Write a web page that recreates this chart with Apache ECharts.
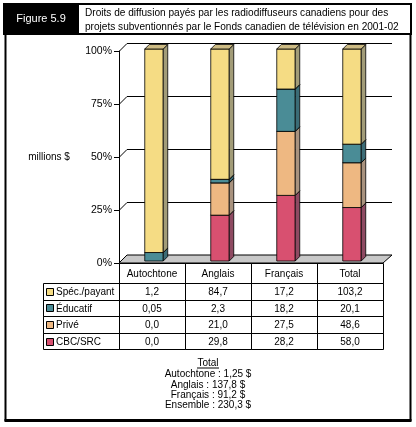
<!DOCTYPE html>
<html>
<head>
<meta charset="utf-8">
<script src="https://cdn.jsdelivr.net/npm/echarts@6/dist/echarts.min.js"></script>
<style>
html,body{margin:0;padding:0;background:#fff;}
#chart{width:416px;height:427px;}
</style>
</head>
<body>
<div id="chart"></div>
<script>
// ---- data ----
const categories = ['Autochtone', 'Anglais', 'Français', 'Total'];
const specPayant = [1.2, 84.7, 17.2, 103.2];
const educatif = [0.05, 2.3, 18.2, 20.1];
const prive = [0.0, 21.0, 27.5, 48.6];
const cbcSrc = [0.0, 29.8, 28.2, 58.0];
const seriesNames = ['Spéc./payant', 'Éducatif', 'Privé', 'CBC/SRC'];
const yTicks = [0, 25, 50, 75, 100];
const yTickLabels = ['0%', '25%', '50%', '75%', '100%'];
const figureLabel = 'Figure 5.9';
const titleLines = ['Droits de diffusion payés par les radiodiffuseurs canadiens pour des',
                    'projets subventionnés par le Fonds canadien de télévision en 2001-02'];
const yName = 'millions $';
const totalTitle = 'Total';
const totalLines = ['Autochtone : 1,25 $', 'Anglais : 137,8 $', 'Français : 91,2 $', 'Ensemble : 230,3 $'];

// ---- styles ----
const FONT = '"Liberation Sans", Arial, sans-serif';
const colors = {
  'Spéc./payant': {front: '#F5DC84', side: '#A29C78', top: '#CDBB84'},
  'Éducatif': {front: '#4A8C96', side: '#3B6C76', top: '#3F7A84'},
  'Privé': {front: '#EEB882', side: '#A8927E', top: '#C9A07A'},
  'CBC/SRC': {front: '#D85070', side: '#8E4A62', top: '#B04862'}
};
const L = {gridL: 119, gridR: 383, gridT: 51, gridB: 263, depth: 8, barOff: 2, barD: 4.5, barFrac: 0.28,
  tableL: 43, headH: 20, rowH: 16.6};
const TF = '10px ' + FONT;

const valueArrays = {'Spéc./payant': specPayant, 'Éducatif': educatif, 'Privé': prive, 'CBC/SRC': cbcSrc};
const stackOrder = ['CBC/SRC', 'Privé', 'Éducatif', 'Spéc./payant'];
const totals = categories.map((c, i) => stackOrder.reduce((s, n) => s + valueArrays[n][i], 0));

const stackData = {};
const cum = categories.map(() => 0);
stackOrder.forEach(n => {
  stackData[n] = categories.map((c, i) => {
    const p = valueArrays[n][i] / totals[i] * 100;
    const lo = cum[i];
    cum[i] += p;
    return [i, lo, cum[i]];
  });
});

function fmt(v) {
  return (v > 0 && v < 0.1 ? v.toFixed(2) : v.toFixed(1)).replace('.', ',');
}

function barRender(name) {
  return function (params, api) {
    const cat = api.value(0), lo = api.value(1), hi = api.value(2);
    if (hi - lo <= 0.0001) return;
    const pLo = api.coord([cat, lo]);
    const pHi = api.coord([cat, hi]);
    const band = api.size([1, 0])[0];
    const w = band * L.barFrac;
    const D = L.barD, o = L.barOff;
    const x0 = pLo[0] - w / 2 + o, x1 = x0 + w;
    const yb = pLo[1] - o, yt = pHi[1] - o;
    const c = colors[name];
    const st = {stroke: '#000', lineWidth: 0.8};
    return {
      type: 'group',
      children: [
        {type: 'rect', shape: {x: x0, y: yt, width: w, height: yb - yt}, style: Object.assign({fill: c.front}, st)},
        {type: 'polygon', shape: {points: [[x1, yt], [x1 + D, yt - D], [x1 + D, yb - D], [x1, yb]]}, style: Object.assign({fill: c.side}, st)},
        {type: 'polygon', shape: {points: [[x0, yt], [x1, yt], [x1 + D, yt - D], [x0 + D, yt - D]]}, style: Object.assign({fill: c.top}, st)}
      ]
    };
  };
}

function decorRender(params, api) {
  const cs = params.coordSys;
  const left = cs.x, right = cs.x + cs.width;
  const d = L.depth;
  const children = [];
  const y0 = api.coord([0, 0])[1];
  children.push({type: 'polygon', shape: {points: [[left, y0], [right, y0], [right + d + 1, y0 - d], [left + d, y0 - d]]},
    style: {fill: '#C8C8C8', stroke: '#000', lineWidth: 1}});
  yTicks.forEach(t => {
    if (t === 0) return;
    const y = Math.round(api.coord([0, t])[1]) + 0.5;
    children.push({type: 'polyline', shape: {points: [[left, y], [left + d, y - d], [right + d + 1, y - d]]},
      style: {stroke: '#000', lineWidth: 1, fill: null}});
  });
  return {type: 'group', children};
}

const series = [{
  type: 'custom', name: 'decor', data: [[0, 0]], renderItem: decorRender, silent: true, z: 1
}];
stackOrder.forEach(n => {
  series.push({type: 'custom', name: n, data: stackData[n], renderItem: barRender(n), z: 2,
    encode: {x: 0, y: [1, 2]}});
});

// ---- graphics: header, frame, table, totals ----
const g = [];
g.push({type: 'rect', shape: {x: 3, y: 3, width: 409, height: 32}, style: {fill: '#000'}});
g.push({type: 'rect', shape: {x: 79, y: 5, width: 331, height: 28}, style: {fill: '#fff'}});
g.push({type: 'text', x: 41, y: 19, style: {text: figureLabel, fill: '#fff', font: '11px ' + FONT, align: 'center', verticalAlign: 'middle'}});
titleLines.forEach((t, i) => {
  g.push({type: 'text', x: 85, y: 13 + i * 14, style: {text: t, fill: '#000', font: '10.1px ' + FONT, verticalAlign: 'middle'}});
});
g.push({type: 'rect', shape: {x: 4.5, y: 35, width: 2, height: 386}, style: {fill: '#000'}});
g.push({type: 'rect', shape: {x: 409.5, y: 35, width: 2, height: 386}, style: {fill: '#000'}});
g.push({type: 'rect', shape: {x: 4.5, y: 419, width: 407, height: 3}, style: {fill: '#000'}});
g.push({type: 'text', x: 49, y: 157, style: {text: yName, fill: '#000', font: TF, align: 'center', verticalAlign: 'middle'}});

const colW = (L.gridR - L.gridL) / categories.length;
const lineSt = {stroke: '#000', lineWidth: 1, fill: null};
// header row
categories.forEach((c, i) => {
  const x = Math.round(L.gridL + colW * i) + 0.5;
  g.push({type: 'rect', shape: {x: x, y: L.gridB + 0.5, width: Math.round(colW), height: L.headH}, style: lineSt});
  g.push({type: 'text', x: L.gridL + colW * (i + 0.5), y: L.gridB + L.headH / 2 + 1,
    style: {text: c, fill: '#000', font: TF, align: 'center', verticalAlign: 'middle'}});
});
// data rows
seriesNames.forEach((n, r) => {
  const y = L.gridB + L.headH + r * L.rowH;
  const yr = Math.round(y) + 0.5;
  const h = Math.round(y + L.rowH) - Math.round(y);
  g.push({type: 'rect', shape: {x: L.tableL + 0.5, y: yr, width: L.gridL - L.tableL, height: h}, style: lineSt});
  g.push({type: 'rect', shape: {x: L.tableL + 3.5, y: Math.round(y + L.rowH / 2 - 3.5) + 0.5, width: 7, height: 7},
    style: {fill: colors[n].front, stroke: '#000', lineWidth: 1}});
  g.push({type: 'text', x: L.tableL + 13, y: y + L.rowH / 2 + 1,
    style: {text: n, fill: '#000', font: TF, verticalAlign: 'middle'}});
  categories.forEach((c, i) => {
    const x = Math.round(L.gridL + colW * i) + 0.5;
    g.push({type: 'rect', shape: {x: x, y: yr, width: Math.round(colW), height: h}, style: lineSt});
    g.push({type: 'text', x: L.gridL + colW * (i + 0.5), y: y + L.rowH / 2 + 1,
      style: {text: fmt(valueArrays[n][i]), fill: '#000', font: TF, align: 'center', verticalAlign: 'middle'}});
  });
});
// totals block
g.push({type: 'text', x: 208, y: 363, style: {text: totalTitle, fill: '#000', font: TF, align: 'center', verticalAlign: 'middle'}});
g.push({type: 'rect', shape: {x: 197, y: 367.5, width: 22, height: 1}, style: {fill: '#000'}});
totalLines.forEach((t, i) => {
  g.push({type: 'text', x: 208, y: 374.5 + i * 10.4, style: {text: t, fill: '#000', font: TF, align: 'center', verticalAlign: 'middle'}});
});

const chart = echarts.init(document.getElementById('chart'), null, {renderer: 'canvas', width: 416, height: 427});
chart.setOption({
  animation: false,
  backgroundColor: '#fff',
  grid: {left: L.gridL, right: 416 - L.gridR, top: L.gridT, bottom: 427 - L.gridB},
  xAxis: {type: 'category', data: categories, show: false},
  yAxis: {
    type: 'value', min: 0, max: 100, interval: 25,
    axisLine: {show: true, lineStyle: {color: '#000', width: 1}},
    axisTick: {show: true, length: 5, lineStyle: {color: '#000'}},
    axisLabel: {formatter: v => yTickLabels[yTicks.indexOf(v)], color: '#000', fontSize: 10.5, fontFamily: FONT, margin: 7},
    splitLine: {show: false}
  },
  series: series,
  graphic: g
});
</script>
</body>
</html>
